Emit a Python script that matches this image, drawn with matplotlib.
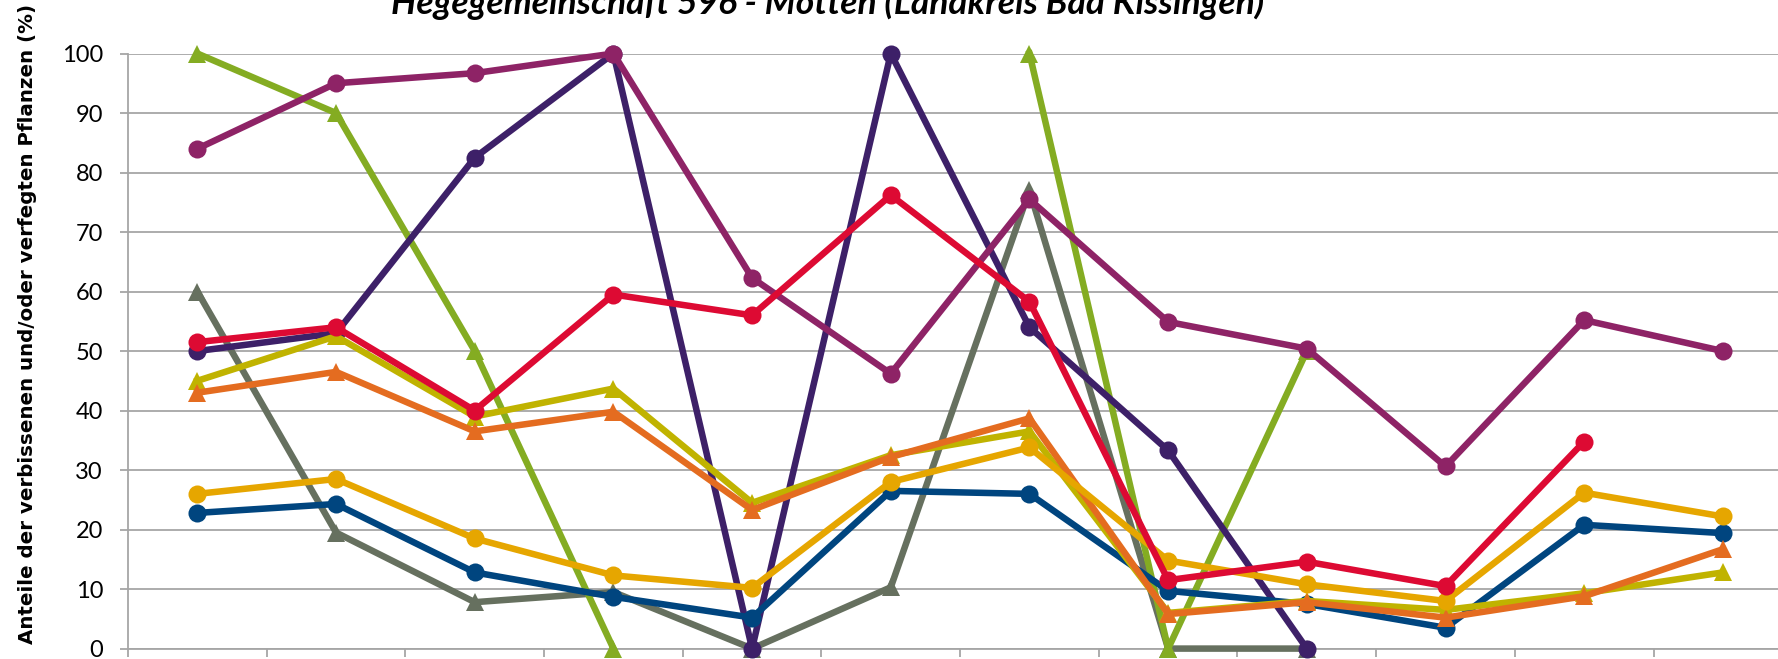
import numpy as np
import matplotlib
matplotlib.use("Agg")
import matplotlib.pyplot as plt

nan = np.nan
categories = list(range(12))

s_grey    = [60, 19.5, 7.8, 9.5, 0, 10.3, 77, 0, 0, nan, nan, nan]
s_green   = [100, 90, 50, 0, nan, nan, 100, 0, 50, nan, nan, nan]
s_indigo  = [50, 53, 82.5, 100, 0, 100, 54, 33.3, 0, nan, nan, nan]
s_plum    = [84, 95, 96.7, 100, 62.3, 46.2, 75.5, 54.9, 50.4, 30.6, 55.2, 50]
s_blue    = [22.8, 24.3, 12.8, 8.7, 5.2, 26.5, 26, 9.7, 7.5, 3.5, 20.8, 19.4]
s_olive   = [45, 52.5, 39, 43.7, 24.5, 32.5, 36.5, 6, 8, 6.5, 9.3, 12.8]
s_orange  = [43, 46.5, 36.5, 39.8, 23.3, 32.2, 38.7, 5.8, 7.8, 5.2, 8.8, 16.7]
s_gold    = [26, 28.5, 18.5, 12.3, 10.2, 28, 33.8, 14.8, 10.8, 8, 26.2, 22.2]
s_red     = [51.5, 54, 40, 59.5, 56, 76.2, 58.3, 11.5, 14.6, 10.5, 34.8, nan]

series = [
    (s_grey, "#66705F", "^"),
    (s_green, "#84AC22", "^"),
    (s_indigo, "#3D2068", "o"),
    (s_plum, "#8E2366", "o"),
    (s_blue, "#00457F", "o"),
    (s_olive, "#C0B300", "^"),
    (s_orange, "#E46C20", "^"),
    (s_gold, "#E6A600", "o"),
    (s_red, "#DD0A33", "o"),
]

title = "Hegegemeinschaft 596 - Motten (Landkreis Bad Kissingen)"
ylabel = "Anteile der verbissenen und/oder verfegten Pflanzen (%)"
yticks = list(range(0, 101, 10))

fig = plt.figure(figsize=(17.78, 6.59), dpi=100)
ax = fig.add_axes([0.072, 0.0158, 0.936, 0.903])

for vals, col, mk in series:
    ax.plot(categories, vals, color=col, lw=4.7, marker=mk, markersize=13,
            markeredgewidth=0, solid_joinstyle="round", clip_on=False, zorder=3)

ax.set_xlim(-0.5, 11.5)
ax.set_ylim(0, 100)
ax.set_yticks(yticks)
ax.set_yticklabels([str(v) for v in yticks], fontfamily="Lato", fontsize=17)
ax.set_xticks(np.arange(-0.5, 12, 1))
ax.set_xticklabels([])
ax.grid(axis="y", color="#A6A6A6", lw=1.3)
ax.set_axisbelow(True)
for sp in ["top", "right"]:
    ax.spines[sp].set_visible(False)
for sp in ["left", "bottom"]:
    ax.spines[sp].set_color("#A6A6A6")
    ax.spines[sp].set_linewidth(1.3)
ax.tick_params(axis="both", color="#A6A6A6", width=1.3, length=6)
ax.tick_params(axis="y", pad=12)

fig.text(0.0155, 0.509, ylabel, rotation=90, ha="center", va="center",
         fontsize=14.3, fontweight="bold", fontfamily="DejaVu Sans")
fig.text(0.4657, 1 - 14/659, title, ha="center", va="baseline",
         fontsize=25.5, fontweight="bold", fontstyle="italic", fontfamily="Lato")

fig.savefig("out.png", dpi=100)
